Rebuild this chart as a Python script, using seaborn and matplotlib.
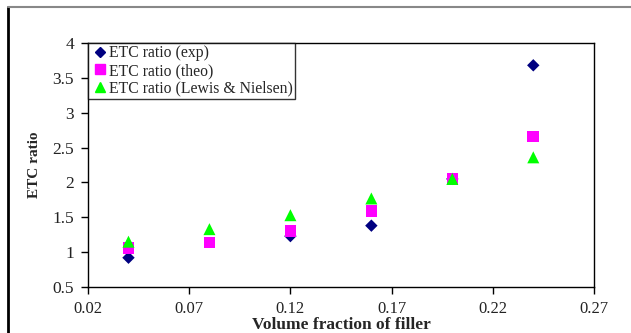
import matplotlib
matplotlib.use("Agg")
import matplotlib.pyplot as plt
import seaborn as sns
import pandas as pd
from matplotlib.lines import Line2D

x_vals = [0.04, 0.08, 0.12, 0.16, 0.20, 0.24]
exp_x = [0.04, 0.12, 0.16, 0.20, 0.24]
exp_vals = [0.92, 1.23, 1.38, 2.05, 3.68]
theo_vals = [1.055, 1.14, 1.30, 1.59, 2.05, 2.66]
lewis_vals = [1.15, 1.33, 1.53, 1.77, 2.05, 2.36]
series_names = ["ETC ratio (exp)", "ETC ratio (theo)", "ETC ratio (Lewis & Nielsen)"]
x_ticks = [0.02, 0.07, 0.12, 0.17, 0.22, 0.27]
y_ticks = [0.5, 1, 1.5, 2, 2.5, 3, 3.5, 4]

sns.set_style("white")
plt.rcParams['font.family'] = ['Liberation Serif', 'DejaVu Serif']

df = pd.concat([
    pd.DataFrame({"x": exp_x, "y": exp_vals, "series": series_names[0]}),
    pd.DataFrame({"x": x_vals, "y": theo_vals, "series": series_names[1]}),
    pd.DataFrame({"x": x_vals, "y": lewis_vals, "series": series_names[2]}),
])

fig = plt.figure(figsize=(6.31, 3.33), dpi=100)
ax = fig.add_axes([88/631, 1-287/333, (594-88)/631, (287-43)/333])

colors = ["#000080", "#FF00FF", "#00FF00"]
markers = ["D", "s", "^"]
sizes = [40, 70, 75]
for name, c, m, s in zip(series_names, colors, markers, sizes):
    sub = df[df["series"] == name]
    sns.scatterplot(data=sub, x="x", y="y", ax=ax, color=c, marker=m, s=s,
                    edgecolor="none", linewidth=0, legend=False, zorder=3)

ax.set_xlim(0.02, 0.27)
ax.set_ylim(0.5, 4)
ax.set_xticks(x_ticks)
ax.set_xticklabels([f"{v:g}" for v in x_ticks])
ax.set_yticks(y_ticks)
ax.set_yticklabels([f"{v:g}" for v in y_ticks])
ax.tick_params(axis="both", direction="out", length=5, width=1, colors="black",
               labelsize=12.5, labelcolor="#222222", bottom=True, left=True)
ax.tick_params(axis="x", pad=5, labelsize=12)
ax.tick_params(axis="y", pad=5)
for sp in ax.spines.values():
    sp.set_color("black")
    sp.set_linewidth(1)

ax.set_xlabel("Volume fraction of filler", fontsize=12.5, fontweight="bold", labelpad=0)
ax.set_ylabel("ETC ratio", fontsize=11, fontweight="bold", labelpad=8)

handles = [Line2D([], [], linestyle="none", marker=m, color=c, markersize=ms)
           for c, m, ms in zip(colors, markers, [5, 7, 7])]
leg = ax.legend(handles, series_names, loc="upper left", bbox_to_anchor=(0, 1),
                borderaxespad=0, frameon=True, fancybox=False, fontsize=11.3,
                handletextpad=0.0, handlelength=1.2, labelspacing=0.1,
                borderpad=0.15)
leg.get_frame().set_edgecolor("black")
leg.get_frame().set_linewidth(1)

# outer frame
fig.add_artist(Line2D([8/631, 8/631], [0, 1-7/333], transform=fig.transFigure, color="black", lw=2))
fig.add_artist(Line2D([8/631, 1], [1-7/333, 1-7/333], transform=fig.transFigure, color="#888888", lw=1.5))

fig.savefig("out.png", dpi=100)
